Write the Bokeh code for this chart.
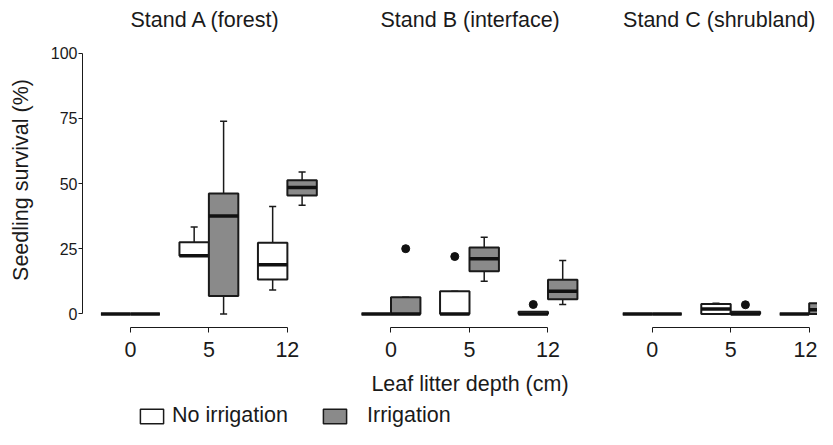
import numpy as np
from bokeh.plotting import figure
from bokeh.layouts import column, row
from bokeh.models import Range1d, FixedTicker, Legend, LegendItem
from bokeh.embed import file_html
from bokeh.resources import INLINE

# ---------------- data ----------------
depths = ["0", "5", "12"]
stands = ["Stand A (forest)", "Stand B (interface)", "Stand C (shrubland)"]
treatments = ["No irrigation", "Irrigation"]
y_ticks = [0, 25, 50, 75, 100]

# Stand A (forest)
a_none_low = [0.0, 22.3, 9.2]
a_none_q1 = [0.0, 22.3, 13.2]
a_none_med = [0.0, 22.3, 18.8]
a_none_q3 = [0.0, 27.5, 27.3]
a_none_high = [0.0, 33.3, 41.2]
a_irr_low = [0.0, 0.0, 41.7]
a_irr_q1 = [0.0, 6.9, 45.4]
a_irr_med = [0.0, 37.5, 48.5]
a_irr_q3 = [0.0, 46.2, 51.2]
a_irr_high = [0.0, 73.9, 54.4]

# Stand B (interface)
b_none_low = [0.0, 0.0, 0.0]
b_none_q1 = [0.0, 0.0, 0.0]
b_none_med = [0.0, 0.0, 0.0]
b_none_q3 = [0.0, 8.7, 0.8]
b_none_high = [0.0, 8.7, 0.8]
b_irr_low = [0.0, 12.5, 3.6]
b_irr_q1 = [0.0, 16.4, 5.6]
b_irr_med = [0.0, 21.1, 8.7]
b_irr_q3 = [6.4, 25.5, 13.1]
b_irr_high = [6.4, 29.4, 20.5]

# Stand C (shrubland)
c_none_low = [0.0, 0.0, 0.0]
c_none_q1 = [0.0, 0.0, 0.0]
c_none_med = [0.0, 1.9, 0.0]
c_none_q3 = [0.0, 3.8, 0.0]
c_none_high = [0.0, 4.1, 0.0]
c_irr_low = [0.0, 0.0, 0.0]
c_irr_q1 = [0.0, 0.0, 0.0]
c_irr_med = [0.0, 0.0, 1.6]
c_irr_q3 = [0.0, 0.8, 4.1]
c_irr_high = [0.0, 0.8, 6.9]

# outliers
out_stand = [1, 1, 1, 2]
out_treat = ["Irrigation", "No irrigation", "No irrigation", "Irrigation"]
out_depth = ["0", "5", "12", "5"]
out_value = [25.0, 22.0, 3.6, 3.5]

stats = [
    {"No irrigation": (a_none_low, a_none_q1, a_none_med, a_none_q3, a_none_high),
     "Irrigation": (a_irr_low, a_irr_q1, a_irr_med, a_irr_q3, a_irr_high)},
    {"No irrigation": (b_none_low, b_none_q1, b_none_med, b_none_q3, b_none_high),
     "Irrigation": (b_irr_low, b_irr_q1, b_irr_med, b_irr_q3, b_irr_high)},
    {"No irrigation": (c_none_low, c_none_q1, c_none_med, c_none_q3, c_none_high),
     "Irrigation": (c_irr_low, c_irr_q1, c_irr_med, c_irr_q3, c_irr_high)},
]

# ---------------- style ----------------
FONT = "Liberation Sans"
INK = "#1a1a1a"
GRAY = "#8a8a8a"
FILLS = {"No irrigation": "white", "Irrigation": GRAY}
SIDE = {"No irrigation": -1, "Irrigation": 1}
BOX_W = 0.375
CAP_W = 0.09
Y_RANGE = (-5.215, 107.9)
ROW_H = 400
TOP = 32
BOTTOM = ROW_H - 327

panel_cfg = [
    # width, min_border_left, x range, title align, title offset
    (339, 82, (0.390, 3.664), "left", 48),
    (261, 0, (0.344, 3.669), "left", 41),
    (217, 0, (0.341, 3.106), "right", 2),
]


def make_panel(i):
    width, left, xr, talign, toff = panel_cfg[i]
    p = figure(width=width, height=ROW_H, x_range=Range1d(*xr), y_range=Range1d(*Y_RANGE),
               output_backend="svg", toolbar_location=None,
               min_border_left=left, min_border_right=0, min_border_top=TOP, min_border_bottom=BOTTOM,
               x_axis_location="below", y_axis_location="left" if i == 0 else None,
               title=stands[i])
    p.outline_line_color = None
    p.xgrid.visible = False
    p.ygrid.visible = False
    p.background_fill_color = "white"
    p.border_fill_color = "white"

    p.title.align = talign
    p.title.offset = toff
    p.title.standoff = 2
    p.title.text_font = FONT
    p.title.text_font_size = "21.5px"
    p.title.text_font_style = "normal"
    p.title.text_color = INK

    ax = p.xaxis[0]
    ax.ticker = FixedTicker(ticks=[1, 2, 3])
    ax.major_label_overrides = {1: depths[0], 2: depths[1], 3: depths[2]}
    ax.bounds = (1, 3)
    ax.minor_tick_line_color = None
    ax.major_tick_in = 0
    ax.major_tick_out = 5
    ax.axis_line_color = INK
    ax.major_tick_line_color = INK
    ax.major_label_text_font = FONT
    ax.major_label_text_font_size = "21.5px"
    ax.major_label_text_color = INK
    ax.major_label_standoff = 9
    if i == 1:
        ax.axis_label = "Leaf litter depth (cm)"
        ax.axis_label_text_font = FONT
        ax.axis_label_text_font_size = "21.5px"
        ax.axis_label_text_font_style = "normal"
        ax.axis_label_text_color = INK
        ax.axis_label_standoff = 12

    if i == 0:
        ay = p.yaxis[0]
        ay.ticker = FixedTicker(ticks=y_ticks)
        ay.bounds = (0, 100)
        ay.minor_tick_line_color = None
        ay.major_tick_in = 0
        ay.major_tick_out = 4
        ay.axis_line_color = INK
        ay.major_tick_line_color = INK
        ay.major_label_text_font = FONT
        ay.major_label_text_font_size = "16px"
        ay.major_label_text_color = INK
        ay.major_label_standoff = 1
        ay.axis_label = "Seedling survival (%)"
        ay.axis_label_text_font = FONT
        ay.axis_label_text_font_size = "21.5px"
        ay.axis_label_text_font_style = "normal"
        ay.axis_label_text_color = INK
        ay.axis_label_standoff = 15

    for t in treatments:
        low, q1, med, q3, high = stats[i][t]
        s = SIDE[t]
        cx = [k + 1 + s * BOX_W / 2 for k in range(len(depths))]
        lefts = [c - BOX_W / 2 for c in cx]
        rights = [c + BOX_W / 2 for c in cx]
        p.segment(x0=cx, y0=q3, x1=cx, y1=high, line_color=INK, line_width=1.5)
        p.segment(x0=cx, y0=q1, x1=cx, y1=low, line_color=INK, line_width=1.5)
        p.segment(x0=[c - CAP_W / 2 for c in cx], y0=high, x1=[c + CAP_W / 2 for c in cx], y1=high,
                  line_color=INK, line_width=1.5)
        p.segment(x0=[c - CAP_W / 2 for c in cx], y0=low, x1=[c + CAP_W / 2 for c in cx], y1=low,
                  line_color=INK, line_width=1.5)
        p.quad(left=lefts, right=rights, bottom=q1, top=q3, fill_color=FILLS[t],
               line_color=INK, line_width=2)
        p.segment(x0=lefts, y0=med, x1=rights, y1=med, line_color="#111111", line_width=3.5)

    ox, oy = [], []
    for st, tr, d, v in zip(out_stand, out_treat, out_depth, out_value):
        if st == i:
            ox.append(depths.index(d) + 1 + SIDE[tr] * BOX_W / 2)
            oy.append(v)
    if ox:
        p.scatter(x=ox, y=oy, size=8, fill_color="#111111", line_color="#111111")
    return p


panels = [make_panel(i) for i in range(3)]

# legend strip (swatch renderers carry no visible data)
lp = figure(width=817, height=29, x_range=Range1d(0, 1), y_range=Range1d(0, 1),
            output_backend="svg", toolbar_location=None,
            x_axis_location=None, y_axis_location=None, min_border=0)
lp.outline_line_color = None
lp.xgrid.visible = False
lp.ygrid.visible = False
nan = np.array([np.nan])
legend_pos = {"No irrigation": (137, 6), "Irrigation": (320, 18)}
for t in treatments:
    r = lp.quad(left=nan, right=nan, bottom=nan, top=nan, fill_color=FILLS[t],
                line_color=INK, line_width=1.5)
    (lx, stand_off) = legend_pos[t]
    lg = Legend(items=[LegendItem(label=t, renderers=[r])], orientation="horizontal",
                location=(lx, 1), glyph_width=29, glyph_height=18, label_standoff=stand_off,
                padding=0, margin=0, border_line_color=None, background_fill_alpha=0,
                label_text_font=FONT, label_text_font_size="21.5px", label_text_color=INK)
    lp.add_layout(lg, "center")

layout = column(row(*panels), lp)
open("out.html", "w").write(file_html(layout, INLINE))
